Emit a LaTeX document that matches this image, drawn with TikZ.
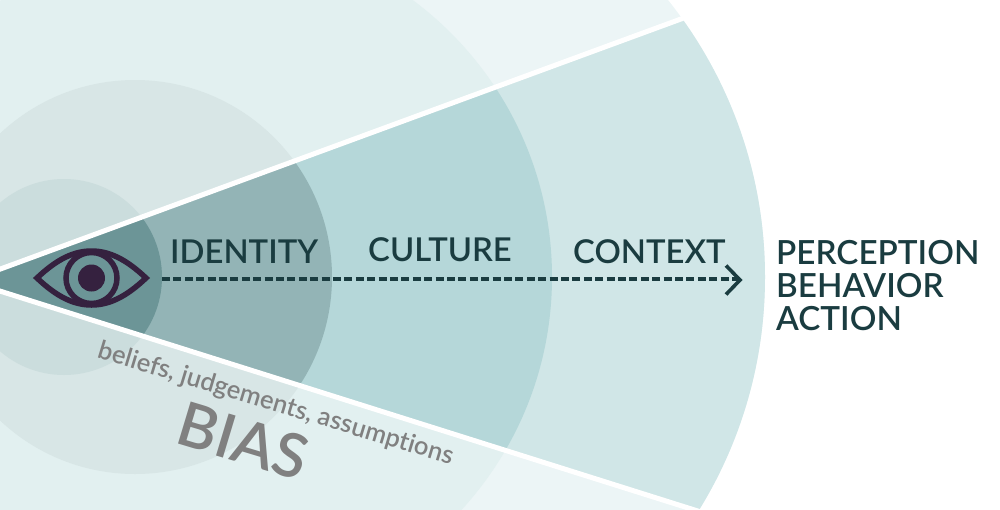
\documentclass[tikz,border=0pt]{standalone}
\usepackage{fontspec}
\setmainfont[Ligatures=NoCommon]{Lato Semibold}
\definecolor{tealtxt}{HTML}{1A3C40}
\definecolor{eyecol}{HTML}{35213F}
\definecolor{greytxt}{HTML}{808080}
\definecolor{outA}{HTML}{ECF5F6}
\definecolor{outB}{HTML}{E2F0F0}
\definecolor{outC}{HTML}{D8E6E6}
\definecolor{outD}{HTML}{CBDDDD}
\definecolor{inA}{HTML}{D0E6E7}
\definecolor{inB}{HTML}{B5D7D9}
\definecolor{inC}{HTML}{93B4B6}
\definecolor{inD}{HTML}{6C9597}
\tikzset{
  headtxt/.style={font=\fontsize{32.8}{33}\selectfont, text=tealtxt, inner sep=0pt, anchor=base west},
  outtxt/.style={font=\fontsize{33.2}{36}\selectfont, text=tealtxt, inner sep=0pt, anchor=base west},
  biastxt/.style={text=greytxt, inner sep=0pt, anchor=base, rotate=-16.8},
  sightline/.style={draw=tealtxt, line width=3.4pt, dash pattern=on 8pt off 3.4pt},
  chevron/.style={draw=tealtxt, line width=3.6pt, miter limit=10},
  edge/.style={draw=white, line width=5pt},
  eyeline/.style={draw=eyecol, line width=5.5pt}
}
\begin{document}
\begin{tikzpicture}[x=1pt,y=-1pt]
\useasboundingbox (0,0) rectangle (1000,509);
\clip (0,0) rectangle (1000,509);
% outside the wedge
\fill[outA] (321,277) circle (444);
\fill[outB] (207,277) circle (345);
\fill[outC] (135,277) circle (197);
\fill[outD] (64,277) circle (98);
% inside the wedge
\begin{scope}
\clip (-32,281) -- (900,-61) -- (900,574) -- cycle;
\fill[inA] (321,277) circle (444);
\fill[inB] (207,277) circle (345);
\fill[inC] (135,277) circle (197);
\fill[inD] (64,277) circle (98);
\end{scope}
% wedge edges
\coordinate (topend) at (700,12);
\coordinate (botend) at (720,518);
\draw[edge] (-5,271) -- (topend);
\draw[edge] (-5,289.5) -- (botend);
% eye
\coordinate (eyeL) at (37,278);
\coordinate (eyeR) at (146,278);
\draw[eyeline, line join=miter] (eyeL) .. controls (57,259) and (74,251) .. (91.5,251) .. controls (109,251) and (126,259) .. (eyeR) .. controls (126,297) and (109,305) .. (91.5,305) .. controls (74,305) and (57,297) .. (eyeL) -- cycle;
\draw[eyeline] (91.5,278) circle (25.5);
\fill[eyecol] (91.5,278) circle (13.5);
% sight line
\coordinate (sightA) at (162,279);
\coordinate (sightB) at (738,279);
\coordinate (chevT) at (726,265.5);
\coordinate (chevB) at (726,294.5);
\draw[sightline] (sightA) -- (sightB);
\draw[chevron] (chevT) -- (740,280) -- (chevB);
% labels
\node[headtxt] (identity) at (170,263.5) {IDENTITY};
\node[headtxt] (culture) at (368,261) {CULTURE};
\node[headtxt] (context) at (573,263.5) {CONTEXT};
\node[outtxt] (perception) at (776,264) {PERCEPTION};
\node[outtxt] (behavior) at (776,297) {BEHAVIOR};
\node[outtxt] (action) at (776,330) {ACTION};
\node[biastxt, font=\fontsize{25.5}{25.5}\selectfont] (beliefs) at (273.5,411) {beliefs, judgements, assumptions};
\node[biastxt, font=\fontsize{61}{61}\selectfont] (bias) at (237,462) {BIAS};
\end{tikzpicture}
\end{document}
